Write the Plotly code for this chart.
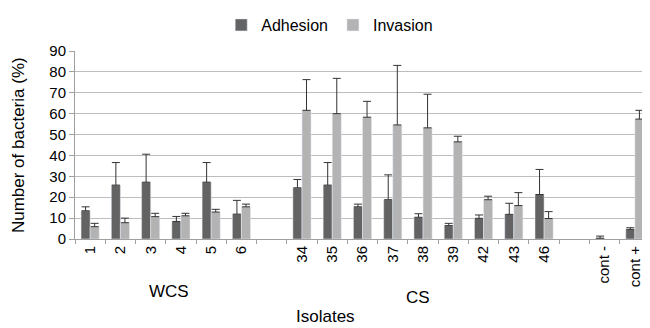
import plotly.graph_objects as go

categories = ["1", "2", "3", "4", "5", "6", " ", "34", "35", "36", "37", "38", "39",
              "42", "43", "46", "  ", "cont -", "cont +"]
adhesion = [13.5, 25.8, 27.2, 8.4, 27.2, 11.9, None, 24.5, 25.8, 15.4, 18.8, 10.4, 6.4,
            9.9, 11.8, 21.3, None, 0.4, 4.6]
adhesion_err = [1.9, 10.8, 13.4, 2.4, 9.4, 6.6, None, 4.0, 10.8, 1.3, 11.9, 1.7, 1.1,
                1.6, 5.3, 12.0, None, 1.0, 0.8]
invasion = [5.9, 7.8, 10.7, 11.1, 12.9, 15.4, None, 61.6, 60.0, 58.3, 54.6, 53.2, 46.5,
            18.8, 16.0, 9.8, None, None, 57.4]
invasion_err = [1.6, 2.2, 1.6, 1.2, 1.3, 1.3, None, 14.7, 16.9, 7.6, 28.5, 16.1, 2.7,
                1.7, 6.2, 3.3, None, None, 4.2]
y_ticks = [0, 10, 20, 30, 40, 50, 60, 70, 80, 90]

FONT = "Liberation Sans"
zeros = [0] * len(categories)

fig = go.Figure()
fig.add_trace(go.Bar(
    name="Adhesion", x=categories, y=adhesion, marker_color="#636363",
    error_y=dict(type="data", symmetric=False, array=adhesion_err, arrayminus=zeros,
                 color="#333333", thickness=1, width=4),
))
fig.add_trace(go.Bar(
    name="Invasion", x=categories, y=invasion, marker_color="#b3b3b3",
    error_y=dict(type="data", symmetric=False, array=invasion_err, arrayminus=zeros,
                 color="#333333", thickness=1, width=4),
))

fig.update_layout(
    width=642, height=320,
    margin=dict(l=67, r=0, t=43, b=89, autoexpand=False),
    paper_bgcolor="white", plot_bgcolor="white",
    font=dict(family=FONT, size=15, color="black"),
    barmode="group", bargap=0.4, bargroupgap=0,
    showlegend=True,
    legend=dict(orientation="h", x=0.443, xref="paper", xanchor="center", y=1.0, yref="container",
                yanchor="top", font=dict(size=16), itemwidth=30, tracegroupgap=0),
)
fig.update_xaxes(
    type="category", categoryorder="array", categoryarray=categories,
    tickangle=-90, ticks="outside", tickson="boundaries", ticklen=4, tickcolor="#a0a0a0",
    showline=True, linecolor="#a0a0a0", linewidth=1, showgrid=False, automargin=False,
    tickfont=dict(size=15), range=[-0.5, 18.5],
)
fig.update_yaxes(
    range=[0, 90], tickvals=y_ticks, ticks="outside", ticklen=5, tickcolor="#a0a0a0",
    showline=True, linecolor="#a0a0a0", linewidth=1, automargin=False,
    showgrid=True, gridcolor="#bdbdbd", gridwidth=1, zeroline=False,
    tickfont=dict(size=15),
)

fig.add_annotation(text="Number of bacteria (%)", textangle=-90, x=-0.099, xref="paper",
                   y=0.5, yref="paper", showarrow=False, font=dict(size=17),
                   xanchor="center", yanchor="middle")
fig.add_annotation(text="WCS", x=2.6, xref="x", y=-0.277, yref="paper",
                   showarrow=False, font=dict(size=17), yanchor="middle")
fig.add_annotation(text="CS", x=10.85, xref="x", y=-0.309, yref="paper",
                   showarrow=False, font=dict(size=17), yanchor="middle")
fig.add_annotation(text="Isolates", x=0.435, xref="paper", y=-0.41, yref="paper",
                   showarrow=False, font=dict(size=17), yanchor="middle")

fig.write_html("out.html")
